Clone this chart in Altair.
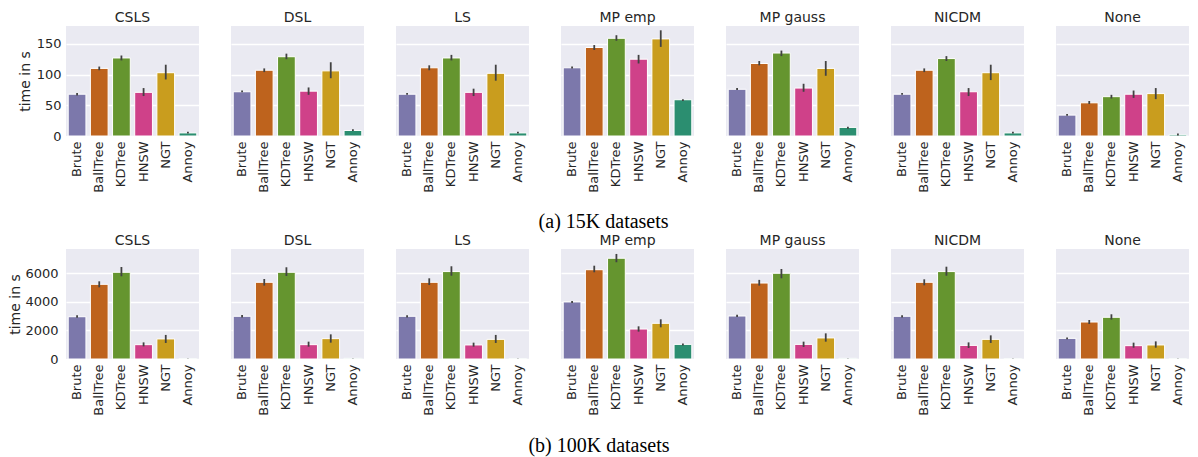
import altair as alt
import pandas as pd

methods = ["CSLS", "DSL", "LS", "MP emp", "MP gauss", "NICDM", "None"]
algos = ["Brute", "BallTree", "KDTree", "HNSW", "NGT", "Annoy"]
colors = ["#7c78ab", "#be631d", "#65952f", "#cf4189", "#c99d1e", "#2b8e70"]

# 15K datasets: mean, lower, upper per method (order of algos)
m15 = {
    "CSLS":     [68, 110, 127, 71, 103, 5],
    "DSL":      [72, 107, 129, 73, 106, 9],
    "LS":       [68, 111, 127, 71, 102, 5],
    "MP emp":   [111, 144, 159, 125, 158, 59],
    "MP gauss": [76, 118, 135, 78, 110, 14],
    "NICDM":    [68, 107, 126, 72, 103, 5],
    "None":     [34, 54, 64, 68, 69, 2],
}
lo15 = {
    "CSLS":     [66, 107, 123, 65, 92, 4],
    "DSL":      [71, 104, 125, 67, 94, 8],
    "LS":       [67, 107, 123, 65, 90, 4],
    "MP emp":   [110, 140, 155, 118, 145, 57],
    "MP gauss": [75, 115, 130, 72, 98, 12],
    "NICDM":    [67, 104, 122, 65, 91, 4],
    "None":     [33, 52, 61, 62, 60, 1],
}
hi15 = {
    "CSLS":     [70, 113, 131, 78, 116, 7],
    "DSL":      [74, 110, 134, 79, 120, 11],
    "LS":       [70, 115, 132, 77, 116, 7],
    "MP emp":   [113, 148, 164, 132, 172, 60],
    "MP gauss": [78, 122, 139, 85, 122, 15],
    "NICDM":    [70, 110, 130, 78, 116, 7],
    "None":     [36, 57, 67, 74, 78, 4],
}

# 100K datasets
m100 = {
    "CSLS":     [2950, 5210, 6050, 1000, 1400, 20],
    "DSL":      [2980, 5350, 6050, 1000, 1420, 45],
    "LS":       [2980, 5350, 6100, 980, 1370, 20],
    "MP emp":   [3980, 6230, 7030, 2090, 2490, 1020],
    "MP gauss": [3000, 5300, 5980, 1020, 1470, 45],
    "NICDM":    [2980, 5350, 6100, 950, 1370, 20],
    "None":     [1440, 2580, 2910, 930, 980, 10],
}
lo100 = {
    "CSLS":     [2870, 5000, 5770, 880, 1120, 10],
    "DSL":      [2900, 5120, 5790, 860, 1140, 30],
    "LS":       [2900, 5160, 5810, 860, 1120, 10],
    "MP emp":   [3900, 6050, 6750, 1910, 2210, 950],
    "MP gauss": [2930, 5120, 5630, 840, 1210, 30],
    "NICDM":    [2900, 5140, 5810, 770, 1120, 10],
    "None":     [1380, 2440, 2750, 790, 790, 0],
}
hi100 = {
    "CSLS":     [3050, 5420, 6420, 1160, 1680, 30],
    "DSL":      [3070, 5580, 6400, 1210, 1720, 60],
    "LS":       [3060, 5630, 6470, 1140, 1680, 30],
    "MP emp":   [4050, 6510, 7330, 2280, 2770, 1090],
    "MP gauss": [3080, 5520, 6280, 1210, 1790, 60],
    "NICDM":    [3060, 5560, 6440, 1160, 1650, 30],
    "None":     [1500, 2720, 3120, 1140, 1230, 20],
}


def build(mean, lo, hi):
    rows = []
    for m in methods:
        for i, a in enumerate(algos):
            rows.append({"method": m, "algo": a, "mean": mean[m][i],
                         "lo": lo[m][i], "hi": hi[m][i]})
    return pd.DataFrame(rows)


df15 = build(m15, lo15, hi15)
df100 = build(m100, lo100, hi100)

TXT = "#262626"


def row(df, ymax, ticks, width, spacing, caption, label_pad, title_pad, cap_offset):
    xaxis = alt.Axis(title=None, labelAngle=-90, ticks=False, domain=False,
                     grid=False, labelPadding=4)
    yaxis = alt.Axis(title="time in s", values=ticks, format="d",
                     labelOverlap=False, ticks=False, domain=False,
                     grid=True, gridColor="white", gridWidth=1.5,
                     labelPadding=label_pad, titlePadding=title_pad)
    yscale = alt.Scale(domain=[0, ymax], nice=False, zero=True)
    xscale = alt.Scale(paddingInner=0.2, paddingOuter=0.1)
    bars = alt.Chart().mark_bar(stroke="white", strokeWidth=1).encode(
        x=alt.X("algo:N", sort=algos, scale=xscale, axis=xaxis),
        y=alt.Y("mean:Q", scale=yscale, axis=yaxis),
        color=alt.Color("algo:N", scale=alt.Scale(domain=algos, range=colors), legend=None),
    )
    err = alt.Chart().mark_rule(color="#424242", strokeWidth=1.8).encode(
        x=alt.X("algo:N", sort=algos, scale=xscale, axis=xaxis),
        y=alt.Y("lo:Q", scale=yscale, axis=yaxis),
        y2="hi:Q",
    )
    return alt.layer(bars, err, data=df).properties(width=width, height=110).facet(
        column=alt.Column("method:N", sort=methods,
                          header=alt.Header(title=None, labelPadding=1)),
        spacing=spacing,
    ).properties(
        title=alt.TitleParams(caption, orient="bottom", anchor="middle",
                              font="Liberation Serif", fontSize=20,
                              fontWeight="normal", color="black", offset=cap_offset)
    )


top = row(df15, 179, [0, 50, 100, 150], 133, 32, "(a) 15K datasets", 5, 4, 20)
bottom = row(df100, 7675, [0, 2000, 4000, 6000], 133, 32, "(b) 100K datasets", 8, 2, 21)

chart = alt.vconcat(top, bottom, spacing=1).properties(
    padding={"left": 0, "top": 3, "right": 0, "bottom": 0},
    background="white",
).configure_view(
    fill="#EAEAF2", stroke=None
).configure_axis(
    labelFont="DejaVu Sans", labelFontSize=13, labelColor=TXT,
    titleFont="DejaVu Sans", titleFontSize=14, titleFontWeight="normal", titleColor=TXT,
).configure_header(
    labelFont="DejaVu Sans", labelFontSize=14, labelColor=TXT,
)

chart.save("out.html", embed_options={"renderer": "svg", "actions": False})
